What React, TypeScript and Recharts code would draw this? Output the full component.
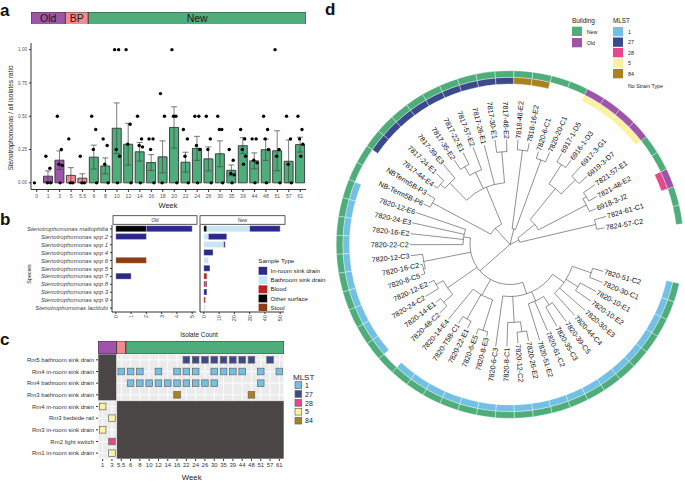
import React from 'react';
import {
  ComposedChart, BarChart, ScatterChart, PieChart, Bar, Cell, ErrorBar, Scatter, Pie,
  XAxis, YAxis, CartesianGrid, ReferenceArea, LabelList, Customized,
} from 'recharts';

const FONT = '"Liberation Sans", Arial, Helvetica, sans-serif';

const buildingColors: Record<string, string> = { Old: '#9d54a9', BP: '#f28b90', New: '#4fad7b' };
const mlstColors: Record<string, string> = { '1': '#72c1e4', '27': '#3b4a8b', '28': '#e6488b', '5': '#fbf1a3', '84': '#a98120' };

// ---------- panel a ----------
const weeksA = ['0', '1', '3', '5', '5.5', '6', '8', '10', '12', '14', '16', '18', '20', '22', '24', '26', '30', '35', '39', '44', '48', '51', '57', '61'];
const buildingA = ['Old', 'Old', 'Old', 'BP', 'BP', 'New', 'New', 'New', 'New', 'New', 'New', 'New', 'New', 'New', 'New', 'New', 'New', 'New', 'New', 'New', 'New', 'New', 'New', 'New'];
const ratioMean = [0, 0.05, 0.17, 0.056, 0.035, 0.193, 0.127, 0.41, 0.29, 0.233, 0.152, 0.195, 0.416, 0.155, 0.259, 0.18, 0.218, 0.094, 0.279, 0.165, 0.249, 0.241, 0.162, 0.287];
const ratioSE = [0, 0.04, 0.07, 0.058, 0.033, 0.09, 0.06, 0.19, 0.157, 0.07, 0.06, 0.12, 0.155, 0.075, 0.09, 0.09, 0.097, 0.04, 0.06, 0.06, 0.08, 0.15, 0.16, 0.056];
const ratioPoints = [
  [0], [0.2, 0.11, 0, 0], [0.5, 0.25, 0.14, 0.13, 0], [0.33, 0, 0], [0.2, 0, 0],
  [0.5, 0.4, 0.25, 0], [0.33, 0.28, 0.14, 0], [1, 1, 0.25, 0.2, 0], [1, 0.44, 0.29, 0],
  [0.5, 0.33, 0.28, 0.27, 0], [0.33, 0.33, 0.25, 0], [0.67, 0.5, 0], [1, 0.5, 0.5, 0],
  [0.4, 0.33, 0.2, 0], [0.5, 0.5, 0.28, 0.25, 0], [0.5, 0.33, 0.25, 0], [0.5, 0.4, 0.4, 0],
  [0.25, 0.17, 0.07, 0.06, 0], [0.4, 0.33, 0.25, 0.2, 0.14], [0.33, 0.33, 0.17, 0.15, 0],
  [0.5, 0.4, 0.33, 0.25, 0], [1, 0.25, 0.2, 0], [0.5, 0.33, 0.14, 0], [0.5, 0.4, 0.33, 0.29, 0.2],
];
// blood isolate marks, in week-band units along the panel a axis
const bloodStripes = [17.7, 17.98, 18.26, 20.71, 20.99];
const stripeWidth = 0.28;

// ---------- panel b ----------
const species = [
  'Stenotrophomonas maltophilia', 'Stenotrophomonas spp 2', 'Stenotrophomonas spp 1', 'Stenotrophomonas spp 4',
  'Stenotrophomonas spp 6', 'Stenotrophomonas spp 5', 'Stenotrophomonas spp 7', 'Stenotrophomonas spp 8',
  'Stenotrophomonas spp 3', 'Stenotrophomonas spp 9', 'Stenotrophomonas lactitubi',
];
const sampleTypes = ['In-room sink drain', 'Bathroom sink drain', 'Blood', 'Other surface', 'Stool'];
const sampleColors = ['#2d2a86', '#c7e6f1', '#b5261f', '#050505', '#8d3f13'];
const oldInRoom = [3, 2, 0, 0, 0, 0, 1, 0, 0, 0, 0];
const oldBathroom = [0, 0, 0, 0, 0, 0, 0, 0, 0, 0, 0];
const oldBlood = [0, 0, 0, 0, 0, 0, 0, 0, 0, 0, 0];
const oldOther = [2, 0, 0, 0, 0, 0, 0, 0, 0, 0, 0];
const oldStool = [0, 0, 0, 0, 2, 0, 0, 0, 0, 0, 0];
const newInRoom = [20, 12, 1, 6, 0, 4, 0, 1, 2, 0, 0];
const newBathroom = [28, 3, 13, 0, 3, 0, 0, 0, 0, 0, 1];
const newBlood = [0, 0, 0, 0, 0, 0, 2, 1, 0, 1, 0];
const newOther = [2, 0, 0, 0, 0, 0, 0, 0, 0, 0, 0];
const newStool = [0, 0, 0, 0, 0, 0, 0, 0, 0, 0, 0];

// ---------- panel c ----------
const weeksC = ['1', '3', '5.5', '6', '8', '10', '12', '14', '16', '22', '24', '26', '30', '35', '39', '44', '48', '51', '57', '61'];
const buildingC = ['Old', 'Old', 'BP', 'New', 'New', 'New', 'New', 'New', 'New', 'New', 'New', 'New', 'New', 'New', 'New', 'New', 'New', 'New', 'New', 'New'];
const roomsC = [
  'Rm5 bathroom sink drain', 'Rm4 in-room sink drain', 'Rm4 bathroom sink drain', 'Rm3 bathroom sink drain',
  'Rm4 in-room sink drain', 'Rm3 bedside rail', 'Rm3 in-room sink drain', 'Rm2 light switch', 'Rm1 in-room sink drain',
];
const roomBuildingC = ['New', 'New', 'New', 'New', 'Old', 'Old', 'Old', 'Old', 'Old'];
const tilesC: [number, string, string[]][] = [
  [0, '27', ['22', '24', '26', '30', '35', '39', '44', '48', '57']],
  [1, '1', ['5.5', '6', '8', '12', '16', '22', '24', '30', '35', '39', '44', '51', '61']],
  [2, '1', ['6', '8', '10', '12', '14', '16', '22', '24', '26', '30', '51']],
  [3, '84', ['16', '48']],
  [4, '5', ['1']],
  [5, '5', ['3']],
  [6, '5', ['1']],
  [7, '28', ['3']],
  [8, '5', ['3']],
];
const mlstOrder = ['1', '27', '28', '5', '84'];

// ---------- panel d ----------
const tipNamesD = [
  '7824-57-C2', '7824-61-C1', '6918-3-J2', '7821-48-E2', '7821-57-E1', '6919-3-D7', '6917-3-G1', '6916-1-D3',
  '6917-1-D5', '7820-20-C1', '7820-6-C1', '7818-16-E2', '7818-48-E2', '7817-48-E2', '7817-30-E1', '7817-26-E1',
  '7817-57-E2', '7817-22-E1', '7817-35-E2', '7817-39-E3', '7817-24-E1', '7817-44-E4', 'NBTerm5B-P3', 'NB-Term5B-P6',
  '7820-12-E6', '7820-24-E3', '7820-16-E2', '7820-22-C2', '7820-12-C3', '7820-16-C2', '7820-8-C5', '7820-12-E2',
  '7820-24-C2', '7820-14-E1', '7820-48-C2', '7820-14-E4', '7820-T5B-C1', '7820-22-E1', '7820-6-E5', '7820-8-E3',
  '7820-6-C3', '7820-8-C1', '7820-12-C2', '7820-26-E2', '7820-51-E2', '7820-61-C2', '7820-35-C3', '7820-39-C5',
  '7820-44-C4', '7820-30-E3', '7820-10-E2', '7820-10-E1', '7820-30-C1', '7820-51-C2',
];
const tipBuildingD = tipNamesD.map((n) => (n.startsWith('69') ? 'Old' : 'New'));
const tipMlstD = [
  '', '', '28', '', '', '5', '5', '5', '5', '', '', '84', '84', '27', '27', '27', '27', '27', '27', '27', '27', '27', '', '',
  '1', '1', '1', '1', '1', '1', '1', '1', '1', '1', '', '1', '1', '1', '1', '1', '1', '1', '1', '1', '1', '1', '1', '1',
  '1', '1', '1', '1', '1', '1',
];
const tipDepthD = [
  0.96, 1.0, 0.93, 0.99, 1.04, 1.03, 1.06, 1.04, 1.05, 1.0, 0.97, 1.03, 1.05, 1.045, 1.056, 1.025, 1.04, 1.03, 1.01,
  1.04, 1.02, 0.96, 0.97, 0.95, 0.99, 1.0, 1.0, 1.0, 1.0, 0.92, 0.94, 0.9, 0.99, 0.94, 0.98, 0.97, 0.94, 0.94, 0.96,
  0.95, 1.03, 1.02, 0.99, 0.98, 1.0, 0.94, 0.94, 0.95, 0.96, 1.0, 0.99, 0.98, 1.0, 0.97,
];
type TreeNode = { d: number; c: (TreeNode | string)[] };
const treeD: TreeNode = { d: 0, c: [
  { d: 0.1, c: [
    { d: 0.88, c: ['7824-57-C2', '7824-61-C1'] },
    { d: 0.32, c: [
      { d: 0.86, c: ['6918-3-J2', { d: 0.9, c: ['7821-48-E2', '7821-57-E1'] }] },
      { d: 0.72, c: [{ d: 0.92, c: ['6919-3-D7', '6917-3-G1'] }, { d: 0.95, c: ['6916-1-D3', '6917-1-D5'] }] },
    ] },
  ] },
  { d: 0.16, c: [
    { d: 0.9, c: ['7820-20-C1', '7820-6-C1'] },
    { d: 0.95, c: ['7818-16-E2', '7818-48-E2'] },
  ] },
  { d: 0.22, c: [
    { d: 0.62, c: [
      { d: 0.93, c: ['7817-48-E2', '7817-30-E1'] },
      '7817-26-E1',
      { d: 0.8, c: ['7817-57-E2', { d: 0.9, c: ['7817-22-E1', '7817-35-E2'] }] },
      { d: 0.86, c: ['7817-39-E3', { d: 0.92, c: ['7817-24-E1', '7817-44-E4'] }] },
    ] },
    { d: 0.88, c: ['NBTerm5B-P3', 'NB-Term5B-P6'] },
  ] },
  { d: 0.4, c: [
    { d: 0.47, c: ['7820-12-E6', '7820-24-E3', '7820-16-E2', '7820-22-C2'] },
    { d: 0.88, c: ['7820-12-C3', { d: 0.9, c: ['7820-16-C2', '7820-8-C5'] }] },
    { d: 0.76, c: [{ d: 0.84, c: ['7820-12-E2', '7820-24-C2'] }, { d: 0.88, c: ['7820-14-E1', '7820-48-C2'] }] },
    { d: 0.58, c: ['7820-14-E4', { d: 0.86, c: ['7820-T5B-C1', '7820-22-E1'] }, { d: 0.9, c: ['7820-6-E5', '7820-8-E3'] }] },
    { d: 0.52, c: [
      '7820-6-C3',
      { d: 0.78, c: ['7820-8-C1', { d: 0.88, c: ['7820-12-C2', '7820-26-E2'] }] },
      { d: 0.62, c: ['7820-51-E2', '7820-61-C2', { d: 0.72, c: ['7820-35-C3', '7820-39-C5'] }] },
      { d: 0.66, c: ['7820-44-C4', '7820-30-E3', { d: 0.8, c: ['7820-10-E2', '7820-10-E1'] }, { d: 0.86, c: ['7820-30-C1', '7820-51-C2'] }] },
    ] },
  ] },
] };

// ---------- helpers ----------
function spans(list: string[]) {
  const out: { name: string; n: number }[] = [];
  list.forEach((b) => {
    const last = out[out.length - 1];
    if (last && last.name === b) last.n += 1;
    else out.push({ name: b, n: 1 });
  });
  return out;
}

const BuildingStrip = ({ list, width, height, labels }: { list: string[]; width: number; height: number; labels?: boolean }) => {
  const sp = spans(list);
  const row: any = { k: 'strip' };
  sp.forEach((s) => (row[s.name] = s.n));
  return (
    <BarChart layout="vertical" width={width} height={height} data={[row]} margin={{ top: 0, right: 0, bottom: 0, left: 0 }} barCategoryGap={0}>
      <XAxis type="number" hide domain={[0, list.length]} />
      <YAxis type="category" dataKey="k" hide />
      {sp.map((s) => (
        <Bar key={s.name} dataKey={s.name} stackId="b" fill={buildingColors[s.name]} stroke="#333" strokeWidth={0.8} isAnimationActive={false}>
          {labels && <LabelList dataKey={s.name} position="center" formatter={() => s.name} fill="#1a1a1a" fontSize={10.5} />}
        </Bar>
      ))}
    </BarChart>
  );
};

const dataA = weeksA.map((week, i) => {
  const row: any = { week, mean: ratioMean[i], se: ratioSE[i], building: buildingA[i] };
  ratioPoints[i].forEach((v, k) => (row['p' + k] = v));
  return row;
});
const jitter = [-2.3, 1.7, -0.7, 2.6, 0.5];
const dotShape = (k: number) => (props: any) => {
  const v = props.payload ? props.payload['p' + k] : undefined;
  if (v == null || !isFinite(props.cy)) return <g />;
  return <circle cx={props.cx + jitter[k]} cy={props.cy} r={1.7} fill="#000" />;
};

const makeSpeciesRows = (sets: number[][]) =>
  species.map((s, i) => {
    const row: any = { species: s };
    sampleTypes.forEach((t, k) => (row[t] = sets[k][i]));
    return row;
  });
const dataOld = makeSpeciesRows([oldInRoom, oldBathroom, oldBlood, oldOther, oldStool]);
const dataNew = makeSpeciesRows([newInRoom, newBathroom, newBlood, newOther, newStool]);
const stackOrder = [4, 3, 2, 1, 0]; // ggplot stacks the legend order from the right

const RotTick = (props: any) => {
  const { x, y, payload } = props;
  return (
    <text x={x} y={y - 1} transform={`rotate(-90 ${x} ${y - 1})`} textAnchor="end" dominantBaseline="central" fontSize={5.5} fill="#444">
      {payload.value}
    </text>
  );
};
const SpeciesTick = (props: any) => {
  const { x, y, payload } = props;
  return (
    <text x={x} y={y} textAnchor="end" dominantBaseline="central" fontSize={6} fontStyle="italic" fill="#444">
      {payload.value}
    </text>
  );
};
const RoomTick = (props: any) => {
  const { x, y, payload } = props;
  return (
    <text x={x} y={y} textAnchor="end" dominantBaseline="central" fontSize={6} fill="#333">
      {roomsC[payload.value]}
    </text>
  );
};

const SpeciesFacet = ({ data, domain, ticks, showLabels }: any) => (
  <BarChart layout="vertical" width={showLabels ? 196 : 85} height={101} data={data} margin={{ top: 0, right: 0, bottom: 0, left: 0 }} barCategoryGap="9%">
    <XAxis type="number" domain={domain} ticks={ticks} allowDataOverflow height={14} tick={<RotTick />} tickSize={2} axisLine={{ stroke: '#333' }} tickLine={{ stroke: '#333' }} interval={0} />
    <YAxis type="category" dataKey="species" width={showLabels ? 112 : 1} tick={showLabels ? <SpeciesTick /> : false} tickSize={2} interval={0} axisLine={{ stroke: '#333' }} tickLine={{ stroke: '#333' }} />
    {stackOrder.map((k) => (
      <Bar key={k} dataKey={sampleTypes[k]} stackId="s" fill={sampleColors[k]} stroke="#ffffff" strokeWidth={0.3} isAnimationActive={false} />
    ))}
  </BarChart>
);

const tileData = tilesC.flatMap(([row, mlst, weeks]) => weeks.map((w) => ({ x: weeksC.indexOf(w), y: row, mlst })));
const tileShape = (p: any) => (
  <rect x={p.cx - 3.3} y={p.cy - 3.3} width={6.6} height={6.6} fill={mlstColors[p.payload.mlst]} stroke="#666" strokeWidth={0.7} />
);
// cells that were not sampled: new-building rooms before the move, old-building rooms after it
const oldColsC = buildingC.filter((b) => b === 'Old').length;
const newRowsC = roomBuildingC.filter((b) => b === 'New').length;
const darkBlocks = [
  { x1: -0.5, x2: oldColsC - 0.5, y1: -0.5, y2: newRowsC - 0.5 },
  { x1: oldColsC - 0.5, x2: weeksC.length - 0.5, y1: newRowsC - 0.5, y2: roomsC.length - 0.5 },
];

// tree geometry (panel d)
const CX = 175;
const CY = 179.5;
const TREE_R = 100;
const ringStart = 6.85;
const tipStep = 6.3;
const tipAngle = (i: number) => ringStart + (i + 0.5) * tipStep;
const pol = (r: number, a: number) => [CX + r * Math.cos((a * Math.PI) / 180), CY - r * Math.sin((a * Math.PI) / 180)];

function layoutTree(node: TreeNode | string, parentR: number, segs: React.ReactNode[]): number {
  if (typeof node === 'string') {
    const i = tipNamesD.indexOf(node);
    const a = tipAngle(i);
    const r = tipDepthD[i] * TREE_R;
    const [x1, y1] = pol(parentR, a);
    const [x2, y2] = pol(r, a);
    segs.push(<line key={'t' + i} x1={x1} y1={y1} x2={x2} y2={y2} />);
    return a;
  }
  const r = node.d * TREE_R;
  const angles = node.c.map((ch) => layoutTree(ch, r, segs));
  const a0 = Math.min(...angles);
  const a1 = Math.max(...angles);
  const a = angles.reduce((s, v) => s + v, 0) / angles.length;
  if (r > 0) {
    const [p0x, p0y] = pol(r, a0);
    const [p1x, p1y] = pol(r, a1);
    segs.push(<path key={'a' + segs.length} d={`M${p0x},${p0y} A${r},${r} 0 ${a1 - a0 > 180 ? 1 : 0} 0 ${p1x},${p1y}`} fill="none" />);
    const [qx, qy] = pol(parentR, a);
    const [sx, sy] = pol(r, a);
    segs.push(<line key={'n' + segs.length} x1={qx} y1={qy} x2={sx} y2={sy} />);
  }
  return a;
}

const TreeLayer = () => {
  const segs: React.ReactNode[] = [];
  layoutTree(treeD, 0, segs);
  return (
    <g>
      <g stroke="#222" strokeWidth={0.5} fill="none">{segs}</g>
      {tipNamesD.map((n, i) => {
        const a = tipAngle(i);
        const [x, y] = pol(tipDepthD[i] * TREE_R + 1.2, a);
        const left = a > 90 && a < 270;
        const rot = left ? 180 - a : -a;
        return (
          <text key={n} x={x} y={y} transform={`rotate(${rot} ${x} ${y})`} textAnchor={left ? 'end' : 'start'} dominantBaseline="central" fontSize={7.2} fill="#111">
            {n}
          </text>
        );
      })}
    </g>
  );
};

const ringData = tipNamesD.map((n, i) => ({ name: n, value: 1, building: tipBuildingD[i], mlst: tipMlstD[i] }));

const abs = (left: number, top: number): React.CSSProperties => ({ position: 'absolute', left, top });

export default function App() {
  return (
    <div style={{ position: 'absolute', left: 0, top: 0, width: 685, height: 481, background: '#fff', fontFamily: FONT, overflow: 'hidden' }}>
      {/* panel a */}
      <div style={abs(31, 11.7)}>
        <BuildingStrip list={buildingA} width={275} height={12.5} labels />
      </div>
      <div style={abs(31, 26)}>
        <ComposedChart width={275} height={17.3} data={bloodStripes.map((s) => ({ x: s }))} margin={{ top: 0, right: 0, bottom: 0, left: 0 }}>
          <XAxis type="number" dataKey="x" domain={[0, weeksA.length]} hide allowDataOverflow />
          <YAxis type="number" domain={[0, 1]} hide />
          <ReferenceArea x1={0} x2={weeksA.length} y1={0} y2={1} fill="#fff" fillOpacity={1} stroke="#333" strokeWidth={0.9} ifOverflow="visible" />
          {bloodStripes.map((s) => (
            <ReferenceArea key={s} x1={s} x2={s + stripeWidth} y1={0} y2={1} fill="#b3201d" fillOpacity={1} stroke="#333" strokeWidth={0.6} ifOverflow="visible" />
          ))}
        </ComposedChart>
      </div>
      <div style={abs(0, 0)}>
        <ComposedChart width={320} height={215} data={dataA} margin={{ top: 43, right: 14, bottom: 0, left: 0 }} barCategoryGap="9%">
          <XAxis dataKey="week" interval={0} tick={{ fontSize: 5.2, fill: '#555' }} tickSize={2.5} height={25.5} axisLine={{ stroke: '#333' }} tickLine={{ stroke: '#333' }} />
          <YAxis type="number" domain={[-0.05, 1.05]} ticks={[0, 0.25, 0.5, 0.75, 1]} tickFormatter={(v: number) => v.toFixed(2)} width={31} allowDataOverflow tick={{ fontSize: 4.6, fill: '#555' }} tickSize={2} axisLine={{ stroke: '#333' }} tickLine={{ stroke: '#333' }} />
          <Bar dataKey="mean" stroke="#333" strokeWidth={0.9} isAnimationActive={false}>
            {dataA.map((d) => (
              <Cell key={d.week} fill={buildingColors[d.building]} />
            ))}
            <ErrorBar dataKey="se" width={3} stroke="#444" strokeWidth={0.7} />
          </Bar>
          {jitter.map((_, k) => (
            <Scatter key={k} dataKey={'p' + k} shape={dotShape(k)} isAnimationActive={false} />
          ))}
        </ComposedChart>
      </div>

      {/* panel b */}
      <div style={abs(0, 225)}>
        <SpeciesFacet data={dataOld} domain={[-0.25, 5.25]} ticks={[0, 1, 2, 3, 4, 5]} showLabels />
      </div>
      <div style={abs(199, 225)}>
        <SpeciesFacet data={dataNew} domain={[-2.5, 52.5]} ticks={[0, 10, 20, 30, 40, 50]} />
      </div>

      {/* panel c */}
      <div style={abs(98, 341)}>
        <BuildingStrip list={buildingC} width={186} height={13} />
      </div>
      <div style={abs(0, 354)}>
        <ScatterChart width={284} height={119} margin={{ top: 0, right: 0, bottom: 0, left: 0 }}>
          <CartesianGrid fill="#ebebeb" stroke="#ffffff" strokeWidth={0.9} />
          <XAxis type="number" dataKey="x" domain={[-0.5, weeksC.length - 0.5]} ticks={weeksC.map((_, i) => i)} tickFormatter={(i: number) => weeksC[i]} interval={0} allowDataOverflow height={14} tick={{ fontSize: 6, fill: '#333' }} tickSize={2} axisLine={false} tickLine={{ stroke: '#333' }} />
          <YAxis type="number" dataKey="y" domain={[-0.5, roomsC.length - 0.5]} reversed ticks={roomsC.map((_, i) => i)} interval={0} allowDataOverflow width={98} tick={<RoomTick />} tickSize={2} axisLine={false} tickLine={{ stroke: '#333' }} />
          {darkBlocks.map((b, i) => (
            <ReferenceArea key={i} {...b} fill="#4a4646" fillOpacity={1} stroke="#ffffff" strokeWidth={0.6} />
          ))}
          <Scatter data={tileData} shape={tileShape} isAnimationActive={false} />
        </ScatterChart>
      </div>

      {/* panel d */}
      <div style={abs(335, 65)}>
        <PieChart width={350} height={360} margin={{ top: 0, right: 0, bottom: 0, left: 0 }}>
          <Pie data={ringData} dataKey="value" cx={CX} cy={CY} innerRadius={160.5} outerRadius={167.2} startAngle={ringStart} endAngle={ringStart + tipNamesD.length * tipStep} paddingAngle={0} isAnimationActive={false}>
            {ringData.map((d) => (
              <Cell key={d.name} fill={d.mlst ? mlstColors[d.mlst] : 'none'} stroke={d.mlst ? '#ffffff' : 'none'} strokeWidth={0.35} />
            ))}
          </Pie>
          <Pie data={ringData} dataKey="value" cx={CX} cy={CY} innerRadius={167.2} outerRadius={173.8} startAngle={ringStart} endAngle={ringStart + tipNamesD.length * tipStep} paddingAngle={0} isAnimationActive={false}>
            {ringData.map((d) => (
              <Cell key={d.name} fill={buildingColors[d.building]} stroke="#ffffff" strokeWidth={0.35} />
            ))}
          </Pie>
          <Customized component={TreeLayer} />
        </PieChart>
      </div>

      {/* titles, labels and legends */}
      <svg width={685} height={481} style={{ position: 'absolute', left: 0, top: 0, pointerEvents: 'none' }} fontFamily={FONT}>
        <g fontWeight="bold" fontSize={17} fill="#111">
          <text x={0} y={15.5}>a</text>
          <text x={0} y={225}>b</text>
          <text x={0} y={344.5}>c</text>
          <text x={325} y={15}>d</text>
        </g>
        <text x={12.8} y={118} transform="rotate(-90 12.8 118)" textAnchor="middle" fontSize={6.5} fill="#222">
          <tspan fontStyle="italic">Stenotrophomonas</tspan> / all isolates ratio
        </text>
        <text x={168} y={207.5} textAnchor="middle" fontSize={7.5} fill="#222">Week</text>

        <text x={30.5} y={274} transform="rotate(-90 30.5 274)" textAnchor="middle" fontSize={5.5} fill="#222">Species</text>
        <rect x={113} y={215.7} width={84} height={8.6} fill="#fff" stroke="#333" strokeWidth={0.8} />
        <rect x={200} y={215.7} width={85} height={8.6} fill="#fff" stroke="#333" strokeWidth={0.8} />
        <text x={155} y={221.6} textAnchor="middle" fontSize={4.5} fill="#333">Old</text>
        <text x={242.5} y={221.6} textAnchor="middle" fontSize={4.5} fill="#333">New</text>
        <text x={199} y={337.3} textAnchor="middle" fontSize={6.4} fill="#222">Isolate Count</text>
        <text x={258.3} y={263.3} fontSize={6.2} fill="#222">Sample Type</text>
        {sampleTypes.map((t, k) => (
          <g key={t}>
            <rect x={258.3} y={266.7 + 9.2 * k} width={9} height={8.3} fill={sampleColors[k]} stroke="#fff" strokeWidth={0.4} />
            <text x={270.5} y={273 + 9.2 * k} fontSize={6.2} fill="#222">{t}</text>
          </g>
        ))}

        <text x={191.7} y={479.5} textAnchor="middle" fontSize={7.8} fill="#222">Week</text>
        <text x={293} y={380} fontSize={8} fill="#222">MLST</text>
        {mlstOrder.map((m, k) => (
          <g key={m}>
            <rect x={295} y={381.7 + 8.9 * k} width={6.7} height={6.7} fill={mlstColors[m]} stroke="#666" strokeWidth={0.7} />
            <text x={305} y={387.7 + 8.9 * k} fontSize={7} fill="#222">{m}</text>
          </g>
        ))}

        <text x={572} y={23} fontSize={6.4} fill="#222">Building</text>
        {['New', 'Old'].map((b, k) => (
          <g key={b}>
            <rect x={572} y={26.7 + 11.3 * k} width={10} height={9.3} fill={buildingColors[b]} />
            <text x={586.7} y={33.5 + 11.3 * k} fontSize={5.3} fill="#222">{b}</text>
          </g>
        ))}
        <text x={613} y={23} fontSize={6.3} fill="#222">MLST</text>
        {mlstOrder.map((m, k) => (
          <g key={m}>
            <rect x={613} y={27 + 10.5 * k} width={10} height={9.3} fill={mlstColors[m]} />
            <text x={628} y={33.5 + 10.5 * k} fontSize={5.3} fill="#222">{m}</text>
          </g>
        ))}
        <text x={628} y={88} fontSize={5.3} fill="#222">No Strain Type</text>
      </svg>
    </div>
  );
}
